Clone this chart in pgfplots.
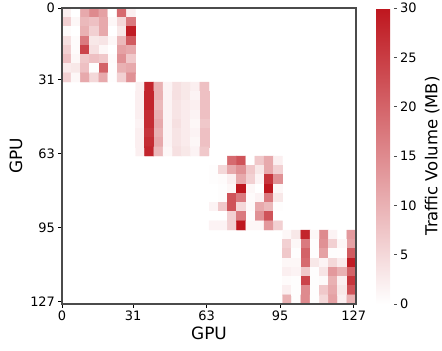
\documentclass[border=0pt]{standalone}
\usepackage{fontspec}
\setmainfont{DejaVu Sans}
\usepackage{pgfplots}
\pgfplotsset{compat=1.18}
\definecolor{spine}{RGB}{75,75,75}
\begin{document}
\begin{tikzpicture}[x=1bp,y=1bp]
\path[use as bounding box] (-62,-46) rectangle (380,304);
\begin{axis}[
  at={(0bp,0bp)}, anchor=south west,
  scale only axis, width=294bp, height=296bp,
  xmin=0, xmax=128, ymin=0, ymax=128, y dir=reverse,
  xtick={0,31,63,95,127}, ytick={0,31,63,95,127},
  xtick pos=bottom, ytick pos=left, tick align=outside,
  major tick length=3.5bp,
  tick style={draw=black, line width=0.8bp},
  axis line style={draw=spine, line width=1.1bp},
  tick label style={font=\fontsize{13}{13}\selectfont},
  /pgf/number format/assume math mode=true,
  xlabel={GPU}, ylabel={GPU},
  label style={font=\fontsize{17}{17}\selectfont},
  xlabel style={yshift=0.5bp},
  ylabel style={yshift=1bp},
  axis on top,
  colormap={reds}{rgb255=(255,255,255) rgb255=(190,22,30)},
  point meta min=0, point meta max=30,
  colorbar,
  colorbar style={
    width=17.5bp,
    at={(1.068,1)}, anchor=north west,
    ytick={0,5,10,15,20,25,30},
    ytick pos=right, tick align=outside,
    yticklabel pos=right,
    major tick length=3bp,
    axis line style={draw=none},
    tick style={draw=black!70, line width=0.7bp},
    tick label style={font=\fontsize{13}{13}\selectfont},
    /pgf/number format/assume math mode=true,
    ylabel={Traffic Volume (MB)},
    ylabel style={font=\fontsize{16.5}{16.5}\selectfont, yshift=-1.5bp},
  },
]
\addplot[matrix plot*, mesh/cols=8, point meta=explicit] coordinates {
(2,2)[2] (6,2)[0] (10,2)[11] (14,2)[15] (18,2)[12] (22,2)[0] (26,2)[19] (30,2)[2]
(2,6)[6] (6,6)[1] (10,6)[9] (14,6)[8] (18,6)[11] (22,6)[1] (26,6)[5] (30,6)[17]
(2,10)[0.5] (6,10)[0] (10,10)[10] (14,10)[6] (18,10)[11] (22,10)[0] (26,10)[3] (30,10)[29]
(2,14)[4] (6,14)[0.5] (10,14)[17] (14,14)[3] (18,14)[3.5] (22,14)[1] (26,14)[9] (30,14)[21]
(2,18)[6] (6,18)[0.5] (10,18)[24] (14,18)[4] (18,18)[1] (22,18)[0] (26,18)[12] (30,18)[11]
(2,22)[8] (6,22)[1] (10,22)[7] (14,22)[8] (18,22)[7] (22,22)[0.5] (26,22)[14] (30,22)[7]
(2,26)[2.5] (6,26)[3] (10,26)[8] (14,26)[0.3] (18,26)[20] (22,26)[0.3] (26,26)[10] (30,26)[11]
(2,30)[6] (6,30)[1] (10,30)[11] (14,30)[5] (18,30)[11] (22,30)[0.3] (26,30)[6] (30,30)[14]
};
\addplot[matrix plot*, mesh/cols=8, point meta=explicit] coordinates {
(34,34)[2] (38,34)[28] (42,34)[10] (46,34)[1.5] (50,34)[4] (54,34)[3] (58,34)[2] (62,34)[8]
(34,38)[2] (38,38)[28] (42,38)[10] (46,38)[1.5] (50,38)[4] (54,38)[3] (58,38)[1.5] (62,38)[8]
(34,42)[2] (38,42)[28] (42,42)[9] (46,42)[1.5] (50,42)[3.5] (54,42)[2.5] (58,42)[2] (62,42)[8]
(34,46)[2] (38,46)[27] (42,46)[10] (46,46)[1.5] (50,46)[3.5] (54,46)[2.5] (58,46)[1.5] (62,46)[8]
(34,50)[1.5] (38,50)[27] (42,50)[11] (46,50)[1.5] (50,50)[4] (54,50)[2.5] (58,50)[1] (62,50)[7]
(34,54)[2] (38,54)[26] (42,54)[10] (46,54)[1.5] (50,54)[3.5] (54,54)[2.5] (58,54)[1.5] (62,54)[8]
(34,58)[2] (38,58)[27] (42,58)[11] (46,58)[1.5] (50,58)[3.5] (54,58)[2.5] (58,58)[1] (62,58)[8]
(34,62)[2] (38,62)[28] (42,62)[9] (46,62)[1] (50,62)[4] (54,62)[3] (58,62)[1.5] (62,62)[7]
};
\addplot[matrix plot*, mesh/cols=8, point meta=explicit] coordinates {
(66,66)[0] (70,66)[0] (74,66)[19] (78,66)[22] (82,66)[0] (86,66)[7] (90,66)[11] (94,66)[2]
(66,70)[0.3] (70,70)[5] (74,70)[11] (78,70)[14] (82,70)[7] (86,70)[3] (90,70)[11] (94,70)[6]
(66,74)[0.3] (70,74)[0.5] (74,74)[2] (78,74)[11] (82,74)[6] (86,74)[1.5] (90,74)[26] (94,74)[14]
(66,78)[0] (70,78)[0.3] (74,78)[1] (78,78)[30] (82,78)[1] (86,78)[0] (90,78)[30] (94,78)[1]
(66,82)[0] (70,82)[0.3] (74,82)[22] (78,82)[17] (82,82)[0.5] (86,82)[1.5] (90,82)[17] (94,82)[3]
(66,86)[1.5] (70,86)[7] (74,86)[22] (78,86)[5] (82,86)[0.7] (86,86)[11] (90,86)[9] (94,86)[0.3]
(66,90)[0] (70,90)[0] (74,90)[6] (78,90)[17] (82,90)[0.3] (86,90)[14] (90,90)[22] (94,90)[0]
(66,94)[1.5] (70,94)[1.5] (74,94)[6] (78,94)[30] (82,94)[1] (86,94)[1] (90,94)[13] (94,94)[6]
};
\addplot[matrix plot*, mesh/cols=8, point meta=explicit] coordinates {
(98,98)[1] (102,98)[3] (106,98)[28] (110,98)[1] (114,98)[15] (118,98)[1.5] (122,98)[0] (126,98)[13]
(98,102)[6] (102,102)[1] (106,102)[17] (110,102)[0.3] (114,102)[14] (118,102)[6] (122,102)[1] (126,102)[12]
(98,106)[7] (102,106)[0.3] (106,106)[20] (110,106)[0.3] (114,106)[12] (118,106)[0.3] (122,106)[0.2] (126,106)[21]
(98,110)[1] (102,110)[1] (106,110)[19] (110,110)[3] (114,110)[1.5] (118,110)[5] (122,110)[2.5] (126,110)[29]
(98,114)[2] (102,114)[1.5] (106,114)[7] (110,114)[0.3] (114,114)[3.5] (118,114)[13] (122,114)[10] (126,114)[20]
(98,118)[0.5] (102,118)[0.3] (106,118)[24] (110,118)[0.3] (114,118)[0.7] (118,118)[10] (122,118)[2] (126,118)[26]
(98,122)[2] (102,122)[0.3] (106,122)[15] (110,122)[0.3] (114,122)[7] (118,122)[11] (122,122)[3] (126,122)[22]
(98,126)[10] (102,126)[0.3] (106,126)[15] (110,126)[0.3] (114,126)[5] (118,126)[12] (122,126)[2] (126,126)[10]
};
\end{axis}
\end{tikzpicture}
\end{document}
